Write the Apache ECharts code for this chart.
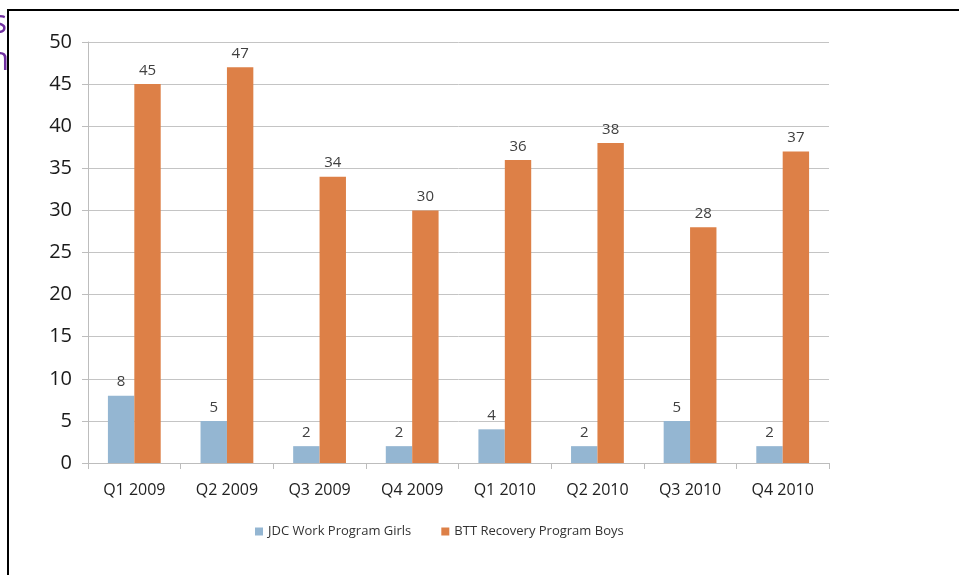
<!DOCTYPE html>
<html><head><meta charset="utf-8">
<script src="https://cdn.jsdelivr.net/npm/echarts@6/dist/echarts.min.js"></script>
<style>html,body{margin:0;padding:0;background:#fff}#c{width:959px;height:575px}</style>
</head><body><div id="c"></div>
<script>
const categories = ['Q1 2009','Q2 2009','Q3 2009','Q4 2009','Q1 2010','Q2 2010','Q3 2010','Q4 2010'];
const girls = [8,5,2,2,4,2,5,2];
const boys = [45,47,34,30,36,38,28,37];
const seriesNames = ['JDC Work Program Girls','BTT Recovery Program Boys'];
const yTicks = {min:0, max:50, interval:5};

const chart = echarts.init(document.getElementById('c'), null, {renderer:'canvas'});
const font = '"Open Sans", "DejaVu Sans", sans-serif';
const lbl = {show:true, position:'top', color:'#404040', fontSize:15, fontFamily:font, distance:6};
chart.setOption({
  animation:false,
  grid:{left:88, right:130, top:42, bottom:112, containLabel:false},
  legend:{bottom:32, left:250, itemWidth:8, itemHeight:8, itemGap:30,
    icon:'rect', textStyle:{fontSize:13, color:'#333', fontFamily:font}, data:seriesNames},
  xAxis:{type:'category', data:categories,
    axisLine:{lineStyle:{color:'#bdbdbd'}},
    axisTick:{show:true, length:6, lineStyle:{color:'#bdbdbd'}},
    axisLabel:{fontSize:16, color:'#222', margin:19, fontFamily:font}},
  yAxis:{type:'value', min:yTicks.min, max:yTicks.max, interval:yTicks.interval,
    axisLine:{show:true, lineStyle:{color:'#bdbdbd'}},
    axisTick:{show:true, length:6, lineStyle:{color:'#bdbdbd'}},
    splitLine:{lineStyle:{color:'#c4c4c4'}},
    axisLabel:{fontSize:20, color:'#1a1a1a', margin:16, fontFamily:font}},
  series:[
    {name:seriesNames[0], type:'bar', data:girls, barGap:'0%', barCategoryGap:'43%',
     itemStyle:{color:'#94b6d2'}, label:lbl},
    {name:seriesNames[1], type:'bar', data:boys, barGap:'0%', barCategoryGap:'43%',
     itemStyle:{color:'#dd8047'}, label:lbl}
  ],
  graphic:[
    {type:'text', x:7, y:8, style:{text:'s', align:'right', verticalAlign:'top', fill:'#7030a0', font:'32px "Open Sans", sans-serif'}, z:5},
    {type:'text', x:9, y:45, style:{text:'n', align:'right', verticalAlign:'top', fill:'#7030a0', font:'32px "Open Sans", sans-serif'}, z:5},
    {type:'rect', shape:{x:8, y:10, width:1000, height:700}, style:{fill:'none', stroke:'#000', lineWidth:2}, z:10}
  ]
});
</script></body></html>
